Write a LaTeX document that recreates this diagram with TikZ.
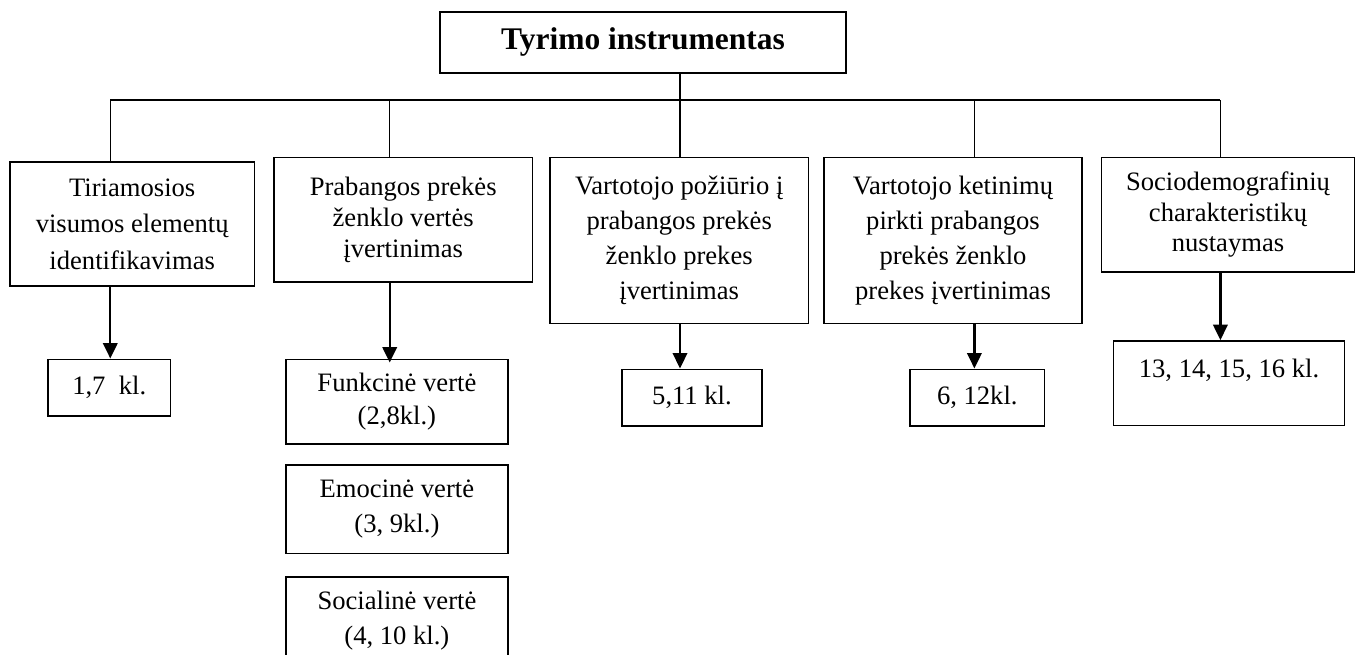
\documentclass[tikz,border=0pt]{standalone}
\usepackage{fontspec}
\setmainfont{Liberation Serif}
\usetikzlibrary{arrows.meta}
\begin{document}
\begin{tikzpicture}[x=1pt,y=-1pt,
  box/.style={draw, line width=1.6pt, align=center, inner sep=0pt,
              font=\fontsize{26.6}{#1}\selectfont},
  box/.default=34,
  link/.style={line width=1.5pt},
  arr/.style={line width=2.2pt, -{Triangle[length=15.5pt,width=14.5pt]}}
]
\useasboundingbox (0,0) rectangle (1358,654);

% title
\node[box, minimum width=406pt, minimum height=61pt,
      font=\fontsize{31.5}{36}\selectfont\bfseries] (top) at (643,42.2) {Tyrimo instrumentas};

% columns of the tree
\coordinate (c1) at (110.3,100);
\coordinate (c2) at (389.7,100);
\coordinate (c3) at (680,100);
\coordinate (c4) at (974.4,100);
\coordinate (c5) at (1220.4,100);

% second level
\node[box=36.5, minimum width=244.7pt, minimum height=124.3pt] (b1) at (132.2,223.9)
  {Tiriamosios\\visumos elementų\\identifikavimas};
\node[box=31, minimum width=258.9pt, minimum height=124.4pt] (b2) at (403.2,219.5)
  {Prabangos prekės\\ženklo vertės\\įvertinimas};
\node[box=35, minimum width=258.4pt, minimum height=166pt] (b3) at (679.2,240.3)
  {Vartotojo požiūrio į\\prabangos prekės\\ženklo prekes\\įvertinimas};
\node[box=35, minimum width=258pt, minimum height=166pt] (b4) at (953,240.3)
  {Vartotojo ketinimų\\pirkti prabangos\\prekės ženklo\\prekes įvertinimas};
\node[box=31, minimum width=252.9pt, minimum height=114.4pt] (b5) at (1228,214.5)
  {Sociodemografinių\\charakteristikų\\nustaymas};

% third level
\node[box, minimum width=122.7pt, minimum height=56.4pt] (v1) at (109.2,387.5) {1,7\ \ kl.};
\node[box=33, minimum width=222.3pt, minimum height=84.4pt] (f1) at (396.9,401.5)
  {Funkcinė vertė\\(2,8kl.)};
\node[box=35, minimum width=222.3pt, minimum height=88.3pt] (f2) at (396.9,509.2)
  {Emocinė vertė\\(3, 9kl.)};
\node[box=35, minimum width=222.3pt, minimum height=88pt] (f3) at (396.9,621)
  {Socialinė vertė\\(4, 10 kl.)};
\node[box, minimum width=140.1pt, minimum height=56.4pt] (v3) at (692,397.5) {5,11 kl.};
\node[box, minimum width=134.5pt, minimum height=56.4pt] (v4) at (977.3,397.5) {6, 12kl.};
\node[box, minimum width=230.9pt, minimum height=84.7pt] (v5) at (1229,383.3)
  {\raisebox{11pt}[0.7em][0.3em]{13, 14, 15, 16 kl.}};

% tree lines
\draw[link] (c1) -- (c5);
\draw[link] (top.south -| c3) -- (b3.north -| c3);
\draw[link] (c1) -- (c1 |- b1.north);
\draw[link] (c2) -- (c2 |- b2.north);
\draw[link] (c4) -- (c4 |- b4.north);
\draw[link] (c5) -- (c5 |- b5.north);

% arrows to the question numbers
\draw[arr] (b1.south -| c1) -- (v1.north -| c1);
\draw[arr] (b2.south -| c2) -- ([yshift=-4pt]f1.north -| c2);
\draw[arr] (b3.south -| c3) -- (v3.north -| c3);
\draw[arr] (b4.south -| c4) -- (v4.north -| c4);
\draw[arr] (b5.south -| c5) -- (v5.north -| c5);
\end{tikzpicture}
\end{document}
